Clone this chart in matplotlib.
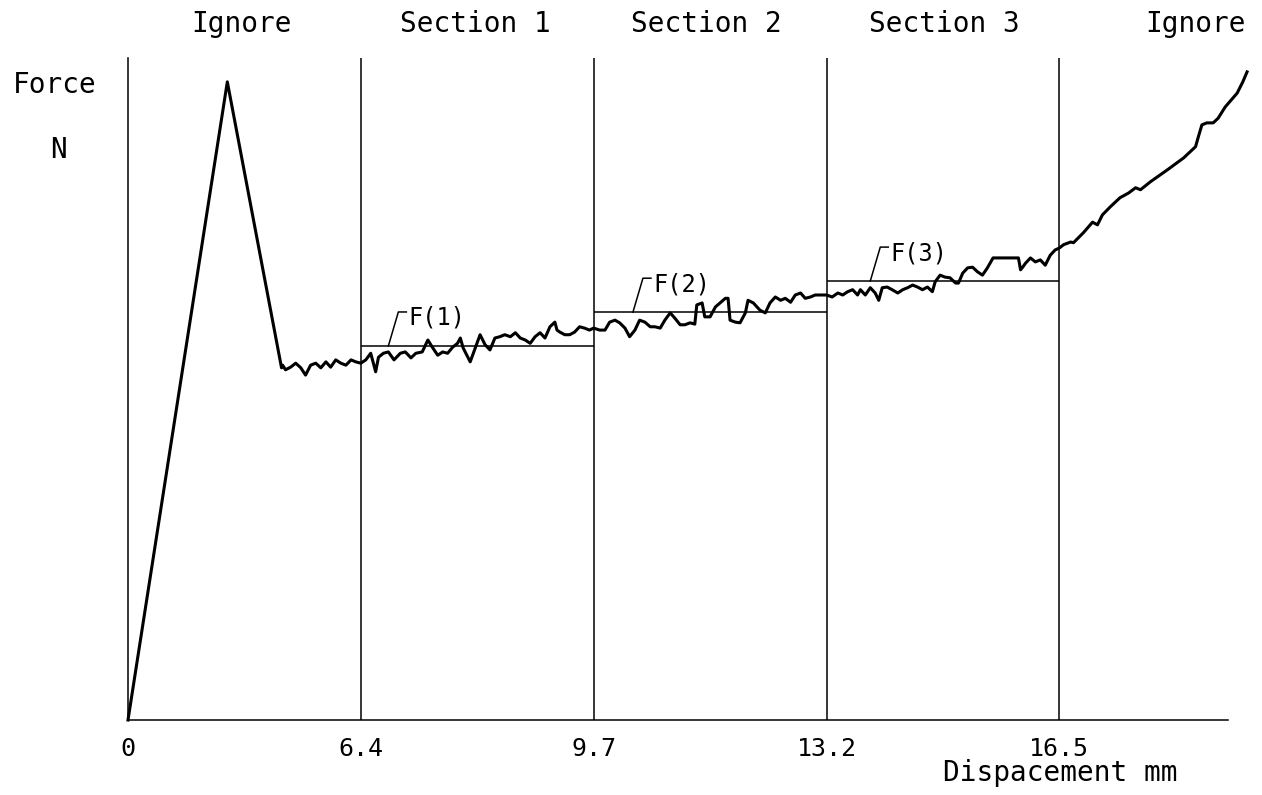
import numpy as np
import matplotlib
matplotlib.use("Agg")
import matplotlib.pyplot as plt
from matplotlib.transforms import IdentityTransform

plt.rcParams['font.family'] = 'DejaVu Sans Mono'

# === data: displacement (mm) and force (N, arbitrary scale 0-100) ===
disp = [0.00, 2.73, 4.22,
        4.25, 4.33, 4.47, 4.61, 4.75, 4.88, 5.02, 5.16, 5.30, 5.44, 5.57, 5.71, 5.85, 5.99, 6.13, 6.26, 6.40,
        6.47, 6.54, 6.61, 6.65, 6.72, 6.79, 6.87, 6.96, 7.03, 7.11, 7.18, 7.27, 7.35, 7.42, 7.49, 7.56, 7.63,
        7.70, 7.77, 7.81, 7.85, 7.95, 8.09, 8.16, 8.23, 8.30, 8.37, 8.44, 8.52, 8.59, 8.66, 8.73, 8.80, 8.87,
        8.94, 9.01, 9.08, 9.15, 9.18, 9.22, 9.29, 9.36, 9.43, 9.50, 9.57, 9.64, 9.70,
        9.79, 9.87, 9.94, 10.02, 10.09, 10.17, 10.24, 10.32, 10.39, 10.47, 10.55, 10.62, 10.70, 10.77, 10.85,
        10.92, 11.00, 11.07, 11.15, 11.22, 11.25, 11.33, 11.37, 11.45, 11.53, 11.60, 11.68, 11.72, 11.75,
        11.83, 11.90, 11.98, 12.02, 12.10, 12.20, 12.28, 12.35, 12.43, 12.51, 12.58, 12.66, 12.73, 12.81,
        12.88, 12.96, 13.03, 13.11, 13.20,
        13.28, 13.36, 13.43, 13.50, 13.57, 13.64, 13.68, 13.75, 13.82, 13.89, 13.94, 13.99, 14.06, 14.13,
        14.21, 14.28, 14.35, 14.42, 14.49, 14.56, 14.63, 14.70, 14.74, 14.81, 14.88, 14.95, 15.03, 15.07,
        15.13, 15.20, 15.27, 15.34, 15.41, 15.48, 15.56, 15.92, 15.95, 15.98, 16.02, 16.09, 16.16, 16.23,
        16.30, 16.37, 16.44, 16.50,
        16.56, 16.66, 16.70, 16.84, 16.97, 17.04, 17.11, 17.22, 17.36, 17.48, 17.58, 17.65, 17.79, 18.03,
        18.26, 18.43, 18.47, 18.52, 18.59, 18.68, 18.75, 18.85, 19.02, 19.10, 19.16]
force = [0.0, 96.4, 53.2,
         53.6, 52.9, 53.3, 53.9, 53.2, 52.1, 53.6, 53.9, 53.2, 54.1, 53.3, 54.4, 53.9, 53.6, 54.4, 54.1, 53.9,
         54.4, 55.4, 52.6, 54.8, 55.4, 55.6, 54.4, 55.4, 55.6, 54.7, 55.4, 55.6, 57.4, 56.2, 55.1, 55.6, 55.4,
         56.3, 56.9, 57.7, 56.2, 54.1, 58.2, 56.7, 55.9, 57.7, 57.9, 58.2, 57.9, 58.5, 57.7, 57.4, 56.9, 57.9,
         58.5, 57.7, 59.4, 60.1, 58.9, 58.6, 58.2, 58.2, 58.6, 59.4, 59.2, 58.9, 59.2,
         58.9, 58.9, 60.1, 60.4, 60.0, 59.2, 57.9, 58.9, 60.4, 60.1, 59.4, 59.4, 59.2, 60.4, 61.5,
         60.7, 59.7, 59.7, 60.0, 59.8, 62.7, 63.0, 60.9, 60.9, 62.4, 63.0, 63.7, 63.7, 60.4,
         60.1, 60.0, 61.5, 63.4, 63.0, 61.9, 61.5, 63.0, 63.9, 63.4, 63.7, 63.1, 64.2, 64.5,
         63.7, 63.9, 64.2, 64.2, 64.2,
         63.9, 64.5, 64.2, 64.7, 65.0, 64.2, 65.0, 64.2, 65.3, 64.5, 63.4, 65.3, 65.4, 65.0,
         64.5, 65.0, 65.3, 65.7, 65.4, 65.0, 65.4, 64.7, 66.2, 67.2, 66.9, 66.8, 66.0, 66.0,
         67.5, 68.3, 68.4, 67.7, 67.2, 68.3, 69.8, 69.8, 68.0, 68.4, 69.0, 69.8, 69.2, 69.5,
         68.7, 70.2, 71.0, 71.3,
         71.8, 72.2, 72.1, 73.6, 75.2, 74.8, 76.3, 77.5, 78.9, 79.6, 80.4, 80.1, 81.3, 83.1,
         84.9, 86.6, 88.1, 89.9, 90.2, 90.2, 90.9, 92.6, 94.7, 96.4, 97.9]

bounds = [0, 6.4, 9.7, 13.2, 16.5]
tick_labels = ["0", "6.4", "9.7", "13.2", "16.5"]
f_levels = [56.5, 61.6, 66.3]
f_labels = ["F(1)", "F(2)", "F(3)"]
f_leader_x = [6.79, 10.29, 13.82]
top_labels = ["Ignore", "Section 1", "Section 2", "Section 3", "Ignore"]
top_label_x = [3.12, 8.03, 11.39, 14.87, 18.43]
x_end = 18.89

# piecewise axis: every section gets the same width on paper
bp_mm = [-10, 0, 6.4, 9.7, 13.2, 16.5, 26.4]
bp_pos = [-1.5625, 0, 1, 2, 3, 4, 7]


def fwd(x):
    return np.interp(x, bp_mm, bp_pos)


def inv(p):
    return np.interp(p, bp_pos, bp_mm)


fig = plt.figure(figsize=(12.62, 7.95), dpi=100)
ax = fig.add_axes([128 / 1262, 75 / 795, 1100 / 1262, 662 / 795])
ax.set_xscale('function', functions=(fwd, inv))
ax.set_xlim(0, x_end)
ax.set_ylim(0, 100)

for s in ['top', 'right']:
    ax.spines[s].set_visible(False)
for s in ['left', 'bottom']:
    ax.spines[s].set_linewidth(1.1)
ax.set_yticks([])
ax.set_xticks(bounds, tick_labels, fontsize=18)
ax.tick_params(axis='x', length=0, pad=12)

for b in bounds[1:]:
    ax.axvline(b, color='black', lw=1.1)

ax.plot(disp, force, color='black', lw=2.2, clip_on=False, solid_joinstyle='round')

# mean force levels per section
ax.hlines(f_levels, bounds[1:4], bounds[2:5], color='black', lw=1.1)

# leader lines + labels
fig.canvas.draw()
for xl, lvl, lab in zip(f_leader_x, f_levels, f_labels):
    px, py = ax.transData.transform((xl, lvl))
    ax.plot([px, px + 10, px + 18], [py, py + 34, py + 34], color='black', lw=1.1,
            transform=IdentityTransform(), clip_on=False)
    ax.text(px + 20, py + 28, lab, fontsize=17, ha='left', va='center',
            transform=IdentityTransform())

for xl, lab in zip(top_label_x, top_labels):
    ax.text(xl, 105.2, lab, fontsize=20, ha='center', va='center', clip_on=False)

fig.text(55 / 1262, 1 - 85 / 795, "Force", fontsize=20, ha='center', va='center')
fig.text(58 / 1262, 1 - 150 / 795, "N", fontsize=20, ha='center', va='center')
fig.text(1060 / 1262, 1 - 773 / 795, "Dispacement mm", fontsize=20, ha='center', va='center')

fig.savefig("out.png", dpi=100)
